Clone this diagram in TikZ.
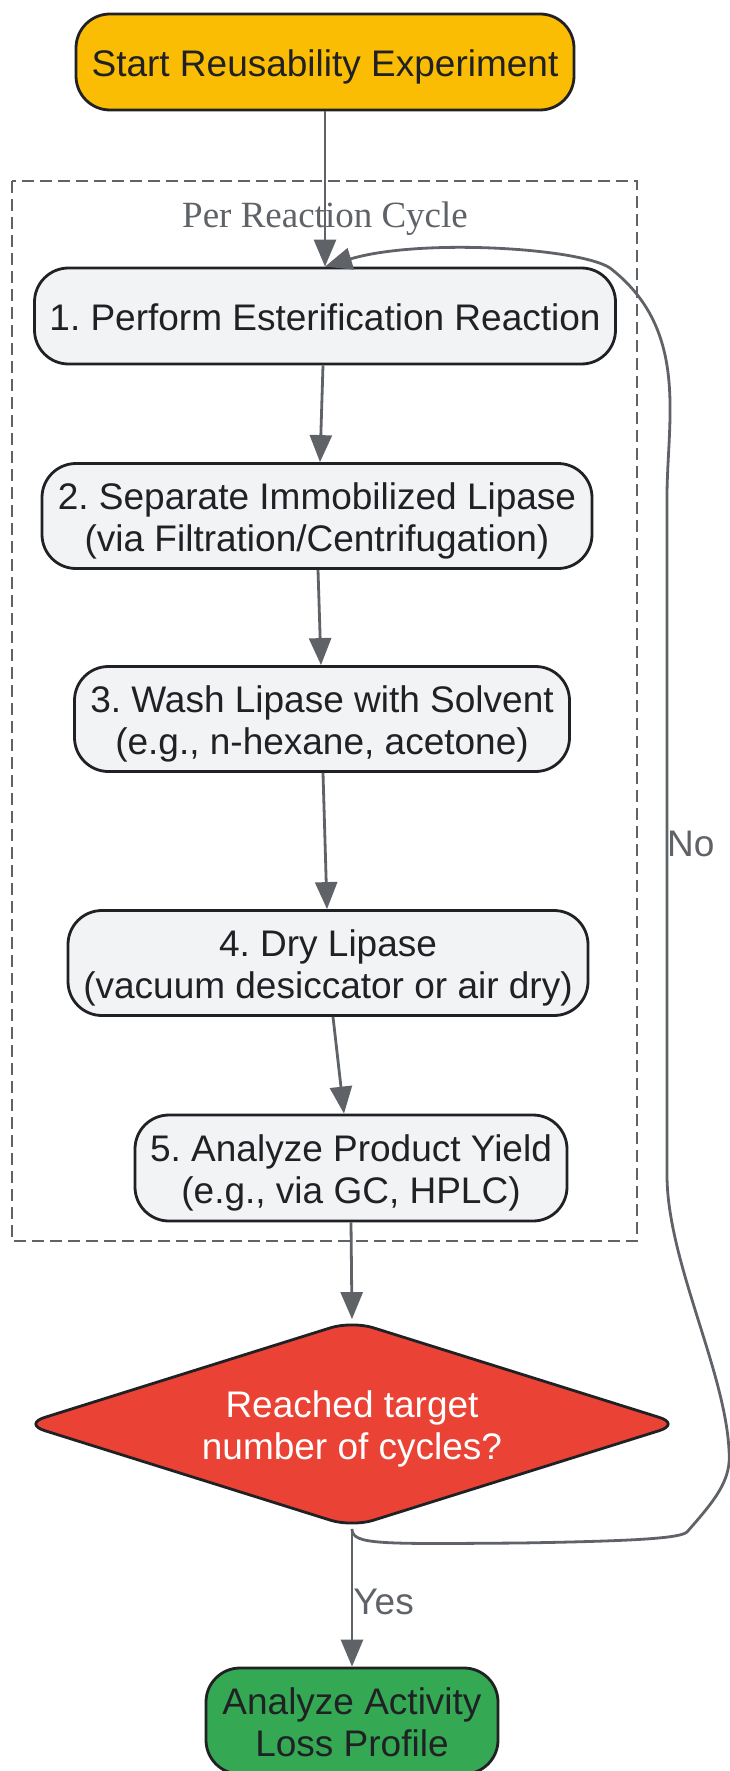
\documentclass[tikz,border=0pt]{standalone}
\usepackage{fontspec}
\setmainfont{Liberation Sans}
\newfontfamily\clusterfont{Liberation Serif}
\usetikzlibrary{shapes.geometric,arrows.meta,calc}
\definecolor{edgegray}{HTML}{5F6368}
\definecolor{nodeborder}{HTML}{202124}
\definecolor{textdark}{HTML}{202124}
\definecolor{lightfill}{HTML}{F1F3F4}
\definecolor{startfill}{HTML}{FBBC04}
\definecolor{decfill}{HTML}{EA4335}
\definecolor{endfill}{HTML}{34A853}
\frenchspacing
\newcommand\nt[1]{\raisebox{0pt}[\dimexpr\height+12pt\relax][\depth]{\begin{tabular}{@{}c@{}}#1\end{tabular}}}
\begin{document}
\begin{tikzpicture}[x=1pt,y=-1pt,
  box/.style={draw=nodeborder, line width=2.8pt, rounded corners=34pt,
    font=\fontsize{37}{42}\selectfont, text=textdark, inner sep=0pt},
  stepbox/.style={box, fill=lightfill},
  decbox/.style={diamond, aspect=3.2, draw=nodeborder, line width=2.8pt, fill=decfill, rounded corners=22pt,
    font=\fontsize{37}{42}\selectfont, text=white, inner sep=0pt,
    minimum width=658pt, minimum height=207pt},
  edge/.style={draw=edgegray, line width=2.8pt, -{Triangle[length=27pt,width=22pt]}},
  elabel/.style={text=edgegray, font=\fontsize{37}{42}\selectfont, inner sep=0pt},
]
\useasboundingbox (0,0) rectangle (729,1771);
\fill[white] (0,0) rectangle (729,1771);

% cluster
\draw[edgegray, line width=2.8pt, dash pattern=on 12pt off 6pt] (12,181) rectangle (637,1241);
\node[text=edgegray, font=\clusterfont\fontsize{37}{42}\selectfont, inner sep=0pt] (cl) at (325,219) {Per Reaction Cycle};

\node[box, fill=startfill, minimum width=498pt, minimum height=96pt] (s) at (325,62) {\nt{Start Reusability Experiment}};
\node[stepbox, minimum width=581pt, minimum height=96pt] (n1) at (325,316) {\nt{1. Perform Esterification Reaction}};
\node[stepbox, minimum width=550pt, minimum height=105pt] (n2) at (317,516) {\nt{2. Separate Immobilized Lipase\\(via Filtration/Centrifugation)}};
\node[stepbox, minimum width=495pt, minimum height=105pt] (n3) at (322,719) {\nt{3. Wash Lipase with Solvent\\(e.g., n-hexane, acetone)}};
\node[stepbox, minimum width=520pt, minimum height=105pt] (n4) at (328,963) {\nt{4. Dry Lipase\\(vacuum desiccator or air dry)}};
\node[stepbox, minimum width=432pt, minimum height=106pt] (n5) at (351,1168) {\nt{5. Analyze Product Yield\\(e.g., via GC, HPLC)}};
\node[decbox] (d) at (352,1424) {\nt{Reached target\\number of cycles?}};
\node[box, fill=endfill, minimum width=292pt, minimum height=106pt] (e) at (352,1721) {\nt{Analyze Activity\\Loss Profile}};

\draw[edge] (s.south) -- (n1.north);
\draw[edge] ($(n1.south)+(-2,0)$) -- ($(n2.north)+(3,0)$);
\draw[edge] ($(n2.south)+(1,0)$) -- ($(n3.north)+(-1,0)$);
\draw[edge] ($(n3.south)+(1,0)$) -- ($(n4.north)+(-1,0)$);
\draw[edge] ($(n4.south)+(5,0)$) -- ($(n5.north)+(-7,0)$);
\draw[edge] (n5.south) -- (d.north);
\draw[edge] (d.south) -- (e.north) node[elabel, pos=0.53, anchor=west] (yes) {Yes};

\draw[edge] (d.south) .. controls (352,1545) and (380,1544) .. (520,1543)
  .. controls (640,1541) and (680,1538) .. (687,1532)
  .. controls (715,1500) and (732,1480) .. (729,1450)
  .. controls (725,1370) and (667,1260) .. (667,1175)
  -- (667,497)
  .. controls (667,420) and (690,330) .. (610,268)
  .. controls (580,248) and (420,238) .. (n1.north);
\node[elabel, anchor=west] (no) at (667,844) {No};
\end{tikzpicture}
\end{document}
